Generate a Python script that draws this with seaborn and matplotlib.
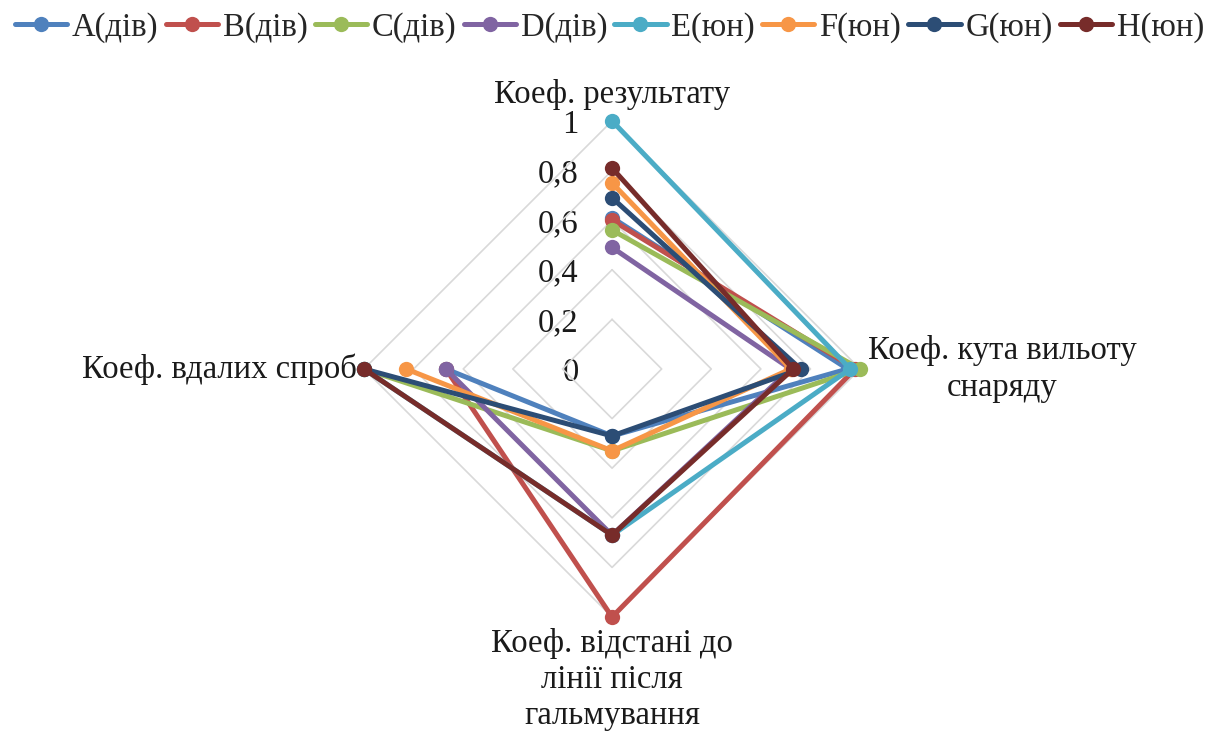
import numpy as np
import pandas as pd
import matplotlib
matplotlib.use("Agg")
import matplotlib.pyplot as plt
import seaborn as sns

categories = ["Коеф. результату", "Коеф. кута вильоту\nснаряду",
              "Коеф. відстані до\nлінії після\nгальмування", "Коеф. вдалих спроб"]
series = ["A(дів)", "B(дів)", "C(дів)", "D(дів)", "E(юн)", "F(юн)", "G(юн)", "H(юн)"]
a_vals = [0.61, 0.95, 0.27, 0.67]
b_vals = [0.60, 0.98, 1.00, 0.67]
c_vals = [0.56, 1.00, 0.33, 1.00]
d_vals = [0.49, 0.72, 0.67, 0.67]
e_vals = [1.00, 0.96, 0.67, 1.00]
f_vals = [0.75, 0.72, 0.33, 0.83]
g_vals = [0.69, 0.76, 0.27, 1.00]
h_vals = [0.81, 0.73, 0.67, 1.00]
grid_ticks = [0, 0.2, 0.4, 0.6, 0.8, 1]
tick_labels = ["0", "0,2", "0,4", "0,6", "0,8", "1"]
colors = ["#4F81BD", "#C0504D", "#9BBB59", "#8064A2", "#4BACC6", "#F79646", "#2C4D75", "#772C2A"]

sns.set_style("white")
plt.rcParams['font.family'] = ['Liberation Serif', 'DejaVu Serif']

all_vals = [a_vals, b_vals, c_vals, d_vals, e_vals, f_vals, g_vals, h_vals]
angles = np.arange(len(categories)) * 2 * np.pi / len(categories)
fs = 23.5
txt_color = "#1a1a1a"

fig = plt.figure(figsize=(12.19, 7.35), dpi=100)
ax = fig.add_axes([0.2986, 0.1605, 0.407, 0.675], projection='polar')
ax.set_theta_zero_location('N')
ax.set_theta_direction(-1)
ax.set_ylim(0, 1)
ax.grid(False)
ax.spines['polar'].set_visible(False)
ax.set_xticks([])
ax.set_yticks([])

# diamond gridlines
closed_angles = np.append(angles, angles[0])
for t in grid_ticks[1:]:
    ax.plot(closed_angles, [t] * len(closed_angles), color="#D9D9D9", lw=1.2, zorder=1, clip_on=False)

for t, lab in zip(grid_ticks, tick_labels):
    ax.annotate(lab, xy=(0, t), xytext=(-24, -2.5), textcoords='offset points',
                ha='right', va='center', fontsize=fs, color=txt_color, zorder=0)

for i, (name, vals) in enumerate(zip(series, all_vals)):
    df = pd.DataFrame({"theta": closed_angles, "r": vals + [vals[0]]})
    sns.lineplot(data=df, x="theta", y="r", ax=ax, sort=False, color=colors[i], lw=3.6,
                 marker='o', markersize=11, markeredgewidth=0, label=name,
                 clip_on=False, zorder=3 + i)

ax.set_xlabel("")
ax.set_ylabel("")
ax.get_legend().remove()

# category labels
ax.text(angles[0], 1.105, categories[0], ha='center', va='center', fontsize=fs, color=txt_color)
ax.text(angles[1], 1.03, categories[1], ha='left', va='center', fontsize=fs, color=txt_color,
        multialignment='center', linespacing=1.25)
ax.text(angles[2], 1.045, categories[2], ha='center', va='top', fontsize=fs, color=txt_color,
        multialignment='center', linespacing=1.22)
ax.text(angles[3], 1.03, categories[3], ha='right', va='center', fontsize=fs, color=txt_color)

handles, labels = ax.get_legend_handles_labels()
fig.legend(handles, labels, loc='upper center', bbox_to_anchor=(0.5, 1.01), ncol=8,
           frameon=False, fontsize=fs, handlelength=1.6, handletextpad=0.15,
           columnspacing=0.22, borderaxespad=0.2)

fig.savefig("out.png", dpi=100)
